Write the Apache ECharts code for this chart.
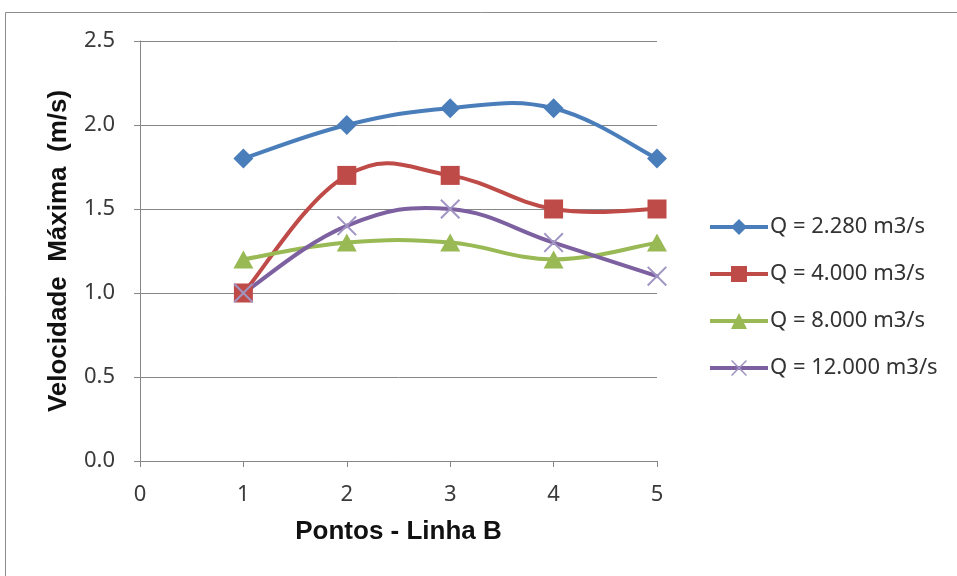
<!DOCTYPE html>
<html><head><meta charset="utf-8">
<script src="https://cdn.jsdelivr.net/npm/echarts@6/dist/echarts.min.js"></script>
<style>html,body{margin:0;padding:0;background:#fff}#c{width:957px;height:576px}</style>
</head><body><div id="c"></div>
<script>
const xPoints = [1, 2, 3, 4, 5];
const seriesNames = ['Q = 2.280 m3/s', 'Q = 4.000 m3/s', 'Q = 8.000 m3/s', 'Q = 12.000 m3/s'];
const q2280 = [1.8, 2.0, 2.1, 2.1, 1.8];
const q4000 = [1.0, 1.7, 1.7, 1.5, 1.5];
const q8000 = [1.2, 1.3, 1.3, 1.2, 1.3];
const q12000 = [1.0, 1.4, 1.5, 1.3, 1.1];
const yTicks = [0, 0.5, 1.0, 1.5, 2.0, 2.5];
const xTicks = [0, 1, 2, 3, 4, 5];

const colors = ['#4A7EBB', '#BE4B48', '#98B954', '#7D60A0'];
const markerColors = ['#4A7EBB', '#BE4B48', '#98B954', '#a195c4'];
const xPath = 'path://M0,0.7L0.7,0L5,4.3L9.3,0L10,0.7L5.7,5L10,9.3L9.3,10L5,5.7L0.7,10L0,9.3L4.3,5Z';
const symbols = ['diamond', 'rect', 'triangle', xPath];
const sizes = [[20, 20], 19, [20, 18], 20];
const vals = [q2280, q4000, q8000, q12000];
const K = 0.2; // Excel-like smoothing tension

function curveSeries(d, i) {
  const data = xPoints.map((x, j) => [x, d[j]]);
  return {
    name: 'curve' + i, type: 'custom', z: 2, silent: true,
    data: data,
    renderItem: function (params, api) {
      const j = params.dataIndex;
      const n = data.length;
      if (j >= n - 1) return null;
      const p = k => api.coord(data[Math.max(0, Math.min(n - 1, k))]);
      const p0 = p(j - 1), p1 = p(j), p2 = p(j + 1), p3 = p(j + 2);
      return {
        type: 'bezierCurve',
        shape: {
          x1: p1[0], y1: p1[1], x2: p2[0], y2: p2[1],
          cpx1: p1[0] + (p2[0] - p0[0]) * K, cpy1: p1[1] + (p2[1] - p0[1]) * K,
          cpx2: p2[0] - (p3[0] - p1[0]) * K, cpy2: p2[1] - (p3[1] - p1[1]) * K
        },
        style: {stroke: colors[i], lineWidth: 4, fill: null, lineCap: 'round'}
      };
    }
  };
}

const chart = echarts.init(document.getElementById('c'));
const tickFont = {fontFamily: 'Noto Sans', fontSize: 22, color: '#3a3a3a'};
const titleFont = {fontFamily: 'Liberation Sans', fontWeight: 'bold', fontSize: 26, color: '#111'};
chart.setOption({
  animation: false,
  graphic: [{type: 'rect', z: -1, shape: {x: 5.5, y: 12.5, width: 960, height: 570}, style: {fill: 'none', stroke: '#8c8c8c', lineWidth: 1}}],
  grid: {left: 140, right: 300, top: 41, bottom: 115},
  legend: {
    orient: 'vertical', left: 703, top: 211, itemWidth: 58, itemHeight: 20, itemGap: 25,
    textStyle: {fontFamily: 'Noto Sans', fontSize: 22, color: '#333', padding: [0, 0, 0, -3]},
    data: seriesNames.map((n, i) => ({name: n, lineStyle: {color: colors[i], width: 4, opacity: 1}}))
  },
  xAxis: {
    type: 'value', min: 0, max: 5, interval: 1,
    name: 'Pontos - Linha B', nameLocation: 'middle', nameGap: 58,
    nameTextStyle: titleFont,
    axisLine: {show: true, lineStyle: {color: '#868686'}},
    axisTick: {show: true, length: 6, lineStyle: {color: '#868686'}},
    axisLabel: Object.assign({margin: 23, formatter: v => xTicks.includes(v) ? String(v) : ''}, tickFont),
    splitLine: {show: false}
  },
  yAxis: {
    type: 'value', min: 0, max: 2.5, interval: 0.5,
    name: 'Velocidade  Máxima  (m/s)', nameLocation: 'middle', nameGap: 68,
    nameTextStyle: titleFont,
    axisLine: {show: true, lineStyle: {color: '#868686'}},
    axisTick: {show: true, length: 6, lineStyle: {color: '#868686'}},
    axisLabel: Object.assign({margin: 25, formatter: v => yTicks.includes(v) ? v.toFixed(1) : ''}, tickFont),
    splitLine: {show: true, lineStyle: {color: '#868686'}}
  },
  series: vals.map((d, i) => curveSeries(d, i)).concat(vals.map((d, i) => ({
    name: seriesNames[i], type: 'line', z: 3,
    data: xPoints.map((x, j) => [x, d[j]]),
    symbol: symbols[i], symbolSize: sizes[i], showSymbol: true,
    lineStyle: {color: colors[i], width: 4, opacity: 0},
    itemStyle: {color: markerColors[i], borderWidth: 0}
  })))
});
</script></body></html>
